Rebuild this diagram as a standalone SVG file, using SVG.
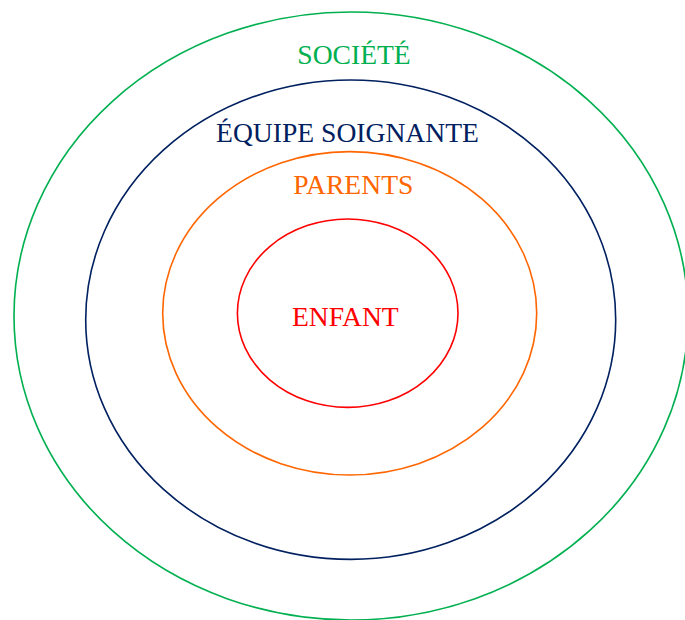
<svg xmlns="http://www.w3.org/2000/svg" width="685" height="620" viewBox="0 0 685 620">
<style>
ellipse{fill:none;stroke-width:1.6}
text{font-family:"Liberation Serif","Times New Roman",serif;font-size:27.6px;text-anchor:middle}
</style>
<rect width="685" height="620" fill="#fff"/>
<g id="societe">
<ellipse cx="351" cy="316" rx="337" ry="304" stroke="#00B050"/>
<text x="354" y="64" fill="#00B050">SOCIÉTÉ</text>
</g>
<g id="equipe">
<ellipse cx="350.7" cy="319.7" rx="265" ry="239.7" stroke="#002060"/>
<text x="347.5" y="142.3" fill="#002060">ÉQUIPE SOIGNANTE</text>
</g>
<g id="parents">
<ellipse cx="349.7" cy="313.3" rx="187" ry="161.7" stroke="#FF6600"/>
<text x="353.3" y="194.3" fill="#FF6600">PARENTS</text>
</g>
<g id="enfant">
<ellipse cx="347.7" cy="313.2" rx="110.3" ry="94.2" stroke="#FF0000"/>
<text x="345.3" y="325.7" fill="#FF0000">ENFANT</text>
</g>
<g id="connectors"/>
</svg>
